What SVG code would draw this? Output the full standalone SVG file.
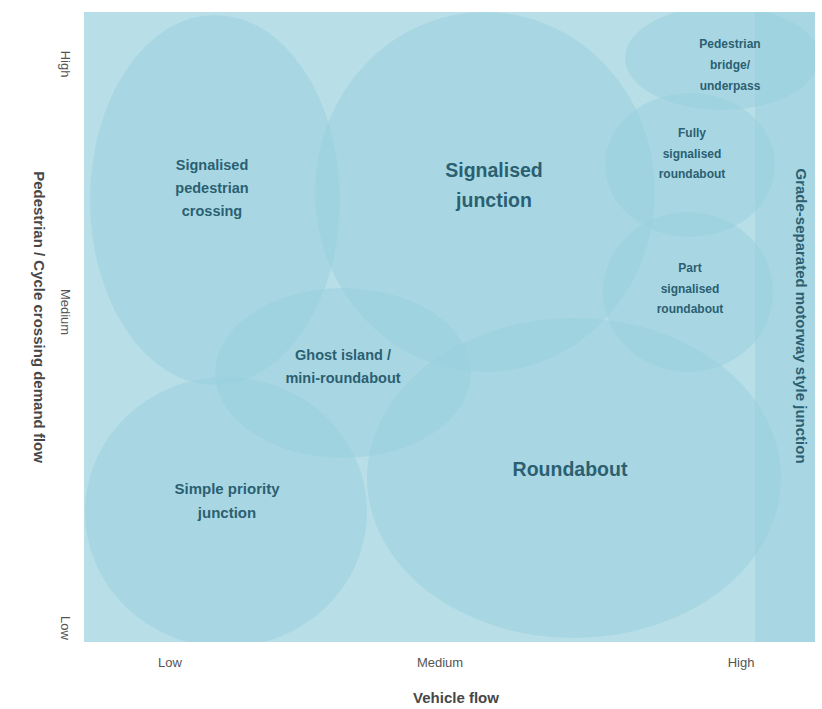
<svg xmlns="http://www.w3.org/2000/svg" width="822" height="709" viewBox="0 0 822 709">
  <style>
    .zone { fill: #98cfde; fill-opacity: 0.5; }
    .lbl { font-family: "Liberation Sans", Arial, sans-serif; font-weight: bold; fill: #2b5f71; text-anchor: middle; }
    .tick { font-family: "Liberation Sans", Arial, sans-serif; font-size: 13px; fill: #555; text-anchor: middle; }
    .axis { font-family: "Liberation Sans", Arial, sans-serif; font-size: 15px; font-weight: bold; fill: #474747; text-anchor: middle; }
  </style>
  <rect width="822" height="709" fill="#ffffff"/>

  <!-- plot background -->
  <rect id="plot" x="84" y="12" width="731" height="630" fill="#b8dfe8"/>

  <clipPath id="plotClip"><rect x="84" y="12" width="731" height="630"/></clipPath>

  <g clip-path="url(#plotClip)">
    <g id="grade-separated">
      <rect class="zone" x="755" y="12" width="60" height="630" fill-opacity="0.4"/>
      <text class="lbl" font-size="15" transform="translate(796,316) rotate(90)">Grade-separated motorway style junction</text>
    </g>
    <g id="signalised-pedestrian-crossing">
      <ellipse class="zone" cx="215" cy="200" rx="125" ry="185"/>
      <text class="lbl" font-size="14.5" x="212" y="170">Signalised</text>
      <text class="lbl" font-size="14.5" x="212" y="193">pedestrian</text>
      <text class="lbl" font-size="14.5" x="212" y="216">crossing</text>
    </g>
    <g id="signalised-junction">
      <ellipse class="zone" cx="485" cy="192" rx="170" ry="180"/>
      <text class="lbl" font-size="19.5" x="494" y="177">Signalised</text>
      <text class="lbl" font-size="19.5" x="494" y="207">junction</text>
    </g>
    <g id="pedestrian-bridge">
      <ellipse class="zone" cx="722" cy="58" rx="97" ry="52"/>
      <text class="lbl" font-size="12" x="730" y="48">Pedestrian</text>
      <text class="lbl" font-size="12" x="730" y="69">bridge/</text>
      <text class="lbl" font-size="12" x="730" y="90">underpass</text>
    </g>
    <g id="fully-signalised-roundabout">
      <ellipse class="zone" cx="690" cy="165" rx="85" ry="72"/>
      <text class="lbl" font-size="12" x="692" y="137">Fully</text>
      <text class="lbl" font-size="12" x="692" y="158">signalised</text>
      <text class="lbl" font-size="12" x="692" y="178">roundabout</text>
    </g>
    <g id="part-signalised-roundabout">
      <ellipse class="zone" cx="688" cy="292" rx="85" ry="80"/>
      <text class="lbl" font-size="12" x="690" y="272">Part</text>
      <text class="lbl" font-size="12" x="690" y="293">signalised</text>
      <text class="lbl" font-size="12" x="690" y="313">roundabout</text>
    </g>
    <g id="ghost-island">
      <ellipse class="zone" cx="343" cy="373" rx="128" ry="85"/>
      <text class="lbl" font-size="14.5" x="343" y="360">Ghost island /</text>
      <text class="lbl" font-size="14.5" x="343" y="383">mini-roundabout</text>
    </g>
    <g id="simple-priority-junction">
      <ellipse class="zone" cx="226" cy="512" rx="141" ry="135"/>
      <text class="lbl" font-size="15" x="227" y="494">Simple priority</text>
      <text class="lbl" font-size="15" x="227" y="518">junction</text>
    </g>
    <g id="roundabout">
      <ellipse class="zone" cx="574" cy="478" rx="207" ry="160"/>
      <text class="lbl" font-size="19.5" x="570" y="476">Roundabout</text>
    </g>
  </g>

  <!-- vertical axis -->
  <g id="y-axis">
    <text class="tick" transform="translate(61,64) rotate(90)">High</text>
    <text class="tick" transform="translate(61,312) rotate(90)">Medium</text>
    <text class="tick" transform="translate(61,628) rotate(90)">Low</text>
    <text class="axis" transform="translate(34,317) rotate(90)">Pedestrian / Cycle crossing demand flow</text>
  </g>

  <!-- horizontal axis -->
  <g id="x-axis">
    <text class="tick" x="170" y="667">Low</text>
    <text class="tick" x="440" y="667">Medium</text>
    <text class="tick" x="741" y="667">High</text>
    <text class="axis" x="456" y="703">Vehicle flow</text>
  </g>
</svg>
